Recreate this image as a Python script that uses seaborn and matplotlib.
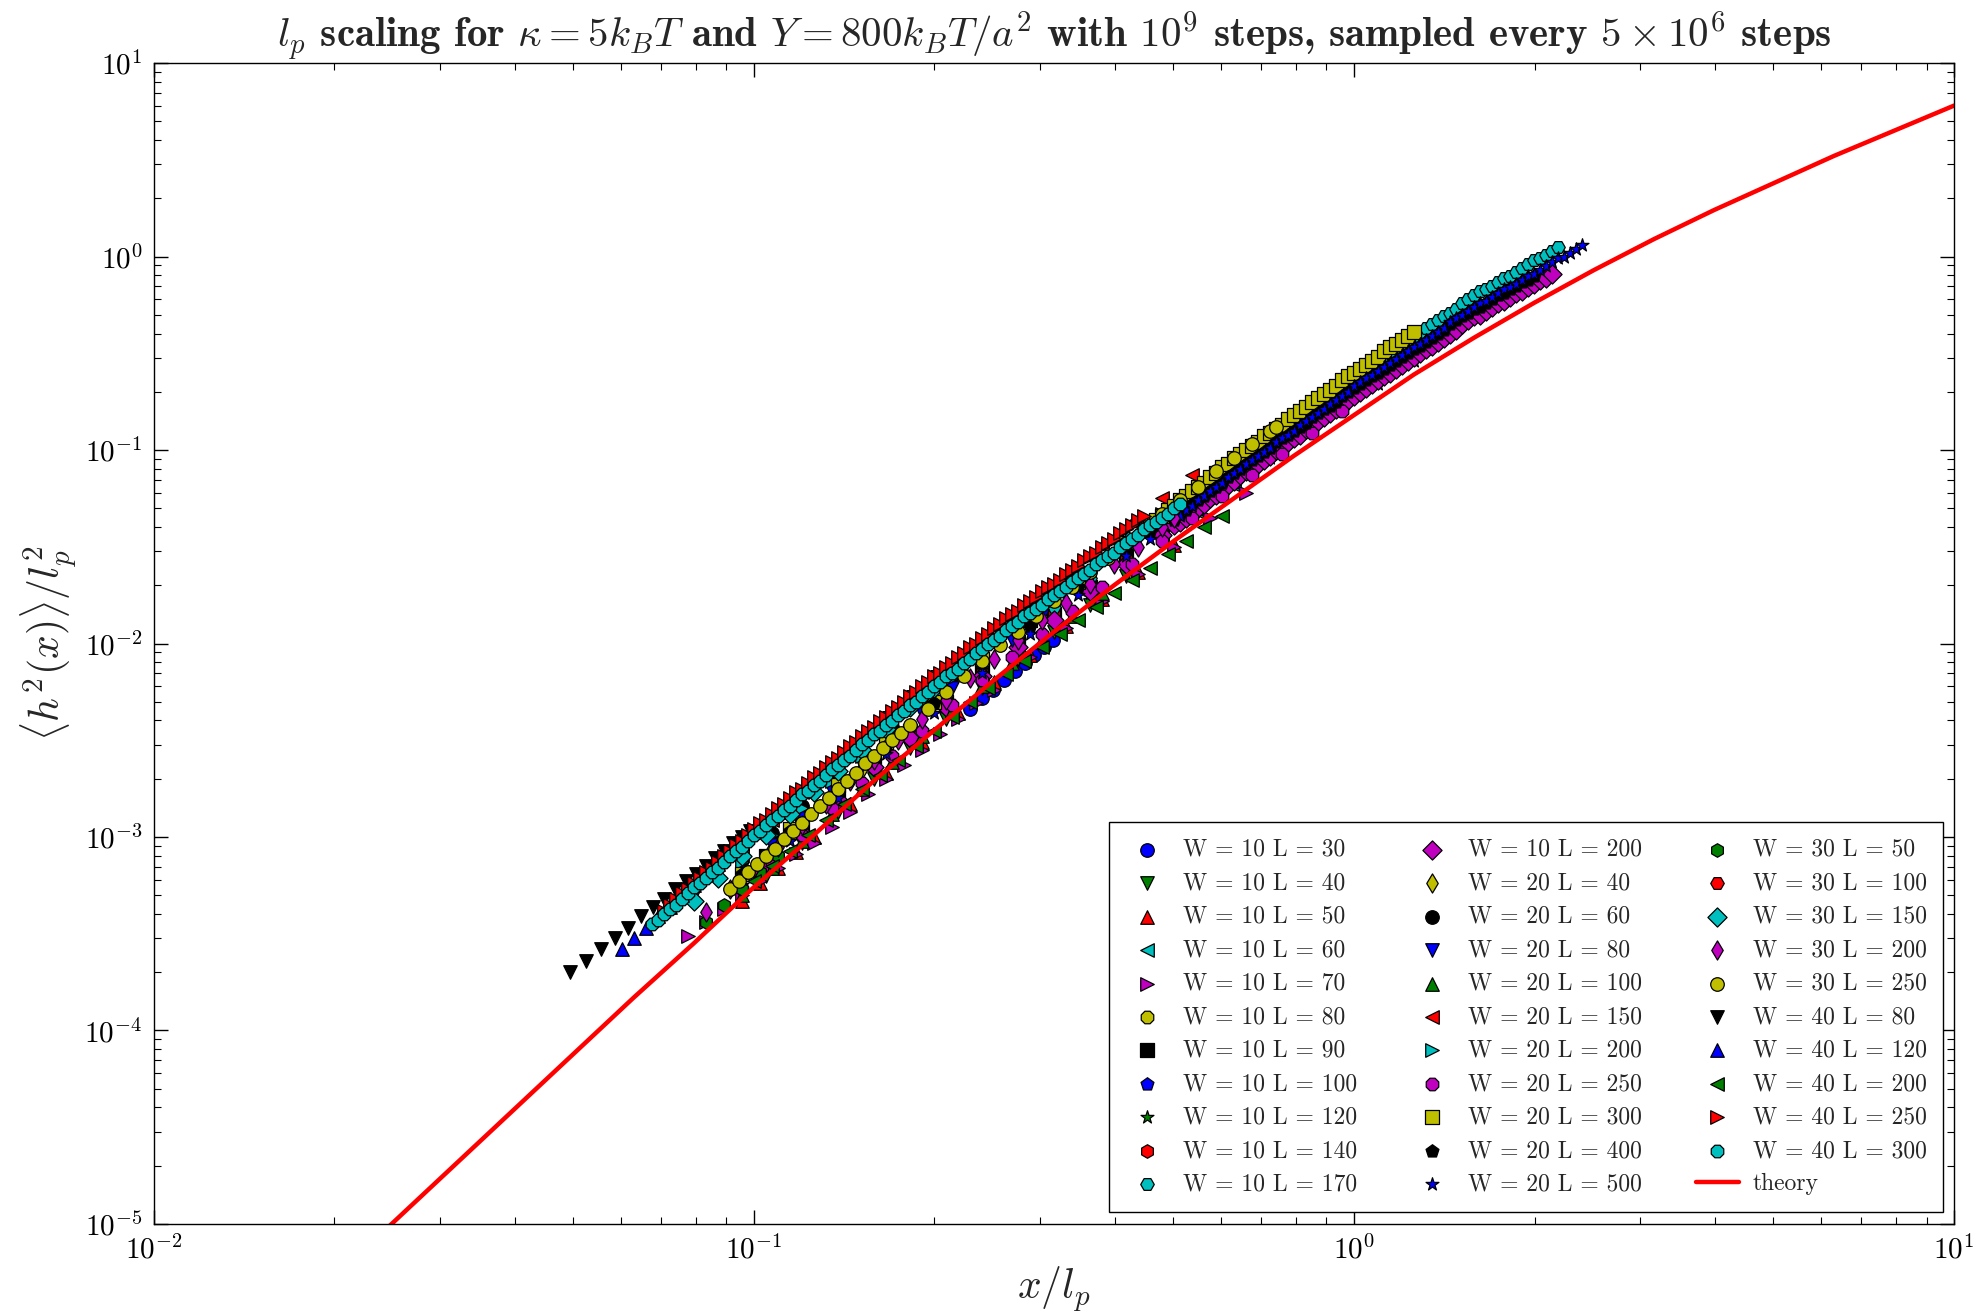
import matplotlib
matplotlib.use("Agg")
import numpy as np
import matplotlib.pyplot as plt
import seaborn as sns

# ---------------------------------------------------------------------------
# Measured <h^2(x)>/l_p^2 against x/l_p, stored as log10 values.
# One inner list per strip length L, grouped by strip width W.
# ---------------------------------------------------------------------------
w10_lengths = [30, 40, 50, 60, 70, 80, 90, 100, 120, 140, 170, 200]
w20_lengths = [40, 60, 80, 100, 150, 200, 250, 300, 400, 500]
w30_lengths = [50, 100, 150, 200, 250]
w40_lengths = [80, 120, 200, 250, 300]

w10_log_x = [
    [-0.640, -0.620, -0.602, -0.583, -0.565, -0.548, -0.533, -0.517, -0.502],
    [-0.98, -0.92, -0.86, -0.80, -0.74, -0.68, -0.62, -0.56, -0.50, -0.44, -0.38],
    [-1.02, -0.99, -0.96, -0.93, -0.90, -0.84, -0.78, -0.72, -0.66, -0.60, -0.54, -0.48, -0.42, -0.36, -0.30],
    [-0.98, -0.92, -0.86, -0.80, -0.74, -0.68, -0.62, -0.56, -0.50, -0.44, -0.38, -0.32, -0.26, -0.20],
    [-1.11, -1.08, -1.05, -1.02, -0.99, -0.96, -0.93, -0.90, -0.87, -0.84, -0.81, -0.78, -0.75, -0.72, -0.69,
     -0.66, -0.63, -0.60, -0.54, -0.48, -0.42, -0.36, -0.30, -0.24, -0.18],
    [-0.98, -0.92, -0.86, -0.80, -0.74, -0.68, -0.62, -0.56, -0.50, -0.44, -0.38, -0.32, -0.26, -0.20, -0.14, -0.08],
    [-0.98, -0.92, -0.86, -0.80, -0.74, -0.68, -0.62, -0.56, -0.50, -0.44, -0.38, -0.32, -0.26, -0.20, -0.14, -0.08,
     -0.02],
    [-0.98, -0.92, -0.86, -0.80, -0.74, -0.68, -0.62, -0.56, -0.50, -0.44, -0.38, -0.32, -0.26, -0.20, -0.14, -0.08,
     -0.02, 0.04],
    [-0.98, -0.92, -0.86, -0.80, -0.74, -0.68, -0.62, -0.56, -0.50, -0.44, -0.38, -0.32, -0.26, -0.20, -0.14, -0.08,
     -0.02, 0.04, 0.10],
    [-0.98, -0.92, -0.86, -0.80, -0.74, -0.68, -0.62, -0.56, -0.50, -0.44, -0.38, -0.32, -0.26, -0.20, -0.14, -0.08,
     -0.02, 0.04, 0.10, 0.16],
    [-0.98, -0.92, -0.86, -0.80, -0.74, -0.68, -0.62, -0.56, -0.50, -0.44, -0.38, -0.32, -0.26, -0.20, -0.14, -0.08,
     -0.02,
     0.00, 0.01, 0.02, 0.03, 0.04, 0.05, 0.06, 0.07, 0.08, 0.09, 0.10, 0.11, 0.12, 0.13, 0.14, 0.15, 0.16, 0.17,
     0.18, 0.19, 0.20, 0.21, 0.22, 0.23, 0.24, 0.25, 0.26, 0.27, 0.28, 0.29, 0.30, 0.31, 0.32, 0.33, 0.34],
    [-0.98, -0.92, -0.86, -0.80, -0.74, -0.68, -0.62, -0.56, -0.50, -0.44, -0.38, -0.32,
     -0.30, -0.29, -0.28, -0.27, -0.26, -0.25, -0.24, -0.23, -0.22, -0.21, -0.20, -0.19, -0.18, -0.17, -0.16,
     -0.15, -0.14, -0.13, -0.12, -0.11, -0.10, -0.09, -0.08, -0.07, -0.06, -0.05, -0.04, -0.03, -0.02, -0.01,
     0.00, 0.01, 0.02, 0.03, 0.04, 0.05, 0.06, 0.07, 0.08, 0.09, 0.10, 0.11, 0.12, 0.13, 0.14, 0.15, 0.16, 0.17,
     0.18, 0.19, 0.20, 0.21, 0.22, 0.23, 0.24, 0.25, 0.26, 0.27, 0.28, 0.29, 0.30, 0.31, 0.32, 0.33],
]
w10_log_y = [
    [-2.34, -2.28, -2.24, -2.19, -2.14, -2.10, -2.06, -2.02, -1.98],
    [-3.20, -3.03, -2.87, -2.70, -2.54, -2.39, -2.23, -2.08, -1.94, -1.80, -1.65],
    [-3.33, -3.24, -3.16, -3.08, -3.00, -2.83, -2.67, -2.51, -2.36, -2.20, -2.06, -1.91, -1.77, -1.63, -1.49],
    [-3.15, -2.98, -2.82, -2.65, -2.49, -2.34, -2.18, -2.03, -1.89, -1.75, -1.60, -1.46, -1.32, -1.18],
    [-3.51, -3.44, -3.37, -3.30, -3.23, -3.16, -3.09, -3.03, -2.95, -2.87, -2.78, -2.70, -2.63, -2.55, -2.47,
     -2.39, -2.31, -2.24, -2.07, -1.92, -1.78, -1.64, -1.50, -1.35, -1.22],
    [-3.13, -2.96, -2.80, -2.63, -2.47, -2.32, -2.16, -2.01, -1.87, -1.73, -1.58, -1.44, -1.30, -1.16, -1.03, -0.90],
    [-3.10, -2.94, -2.78, -2.61, -2.45, -2.30, -2.14, -1.99, -1.85, -1.71, -1.56, -1.42, -1.28, -1.14, -1.01, -0.88,
     -0.75],
    [-3.12, -2.95, -2.79, -2.62, -2.46, -2.31, -2.15, -2.00, -1.86, -1.72, -1.57, -1.43, -1.29, -1.15, -1.02, -0.89,
     -0.76, -0.64],
    [-3.14, -2.97, -2.81, -2.64, -2.48, -2.33, -2.17, -2.02, -1.88, -1.74, -1.59, -1.45, -1.31, -1.17, -1.04, -0.91,
     -0.78, -0.66, -0.54],
    [-3.10, -2.94, -2.78, -2.61, -2.45, -2.30, -2.14, -1.99, -1.85, -1.71, -1.56, -1.42, -1.28, -1.14, -1.01, -0.88,
     -0.75, -0.63, -0.51, -0.39],
    [-3.11, -2.94, -2.76, -2.59, -2.43, -2.27, -2.11, -1.96, -1.81, -1.66, -1.51, -1.36, -1.22, -1.07, -0.94, -0.80,
     -0.67,
     -0.62, -0.60, -0.58, -0.56, -0.54, -0.52, -0.50, -0.47, -0.45, -0.43, -0.41, -0.39, -0.37, -0.35, -0.33,
     -0.31, -0.29, -0.27, -0.24, -0.22, -0.20, -0.18, -0.17, -0.15, -0.13, -0.11, -0.10, -0.08, -0.06, -0.04,
     -0.02, -0.01, 0.01, 0.03, 0.05],
    [-3.15, -2.98, -2.81, -2.64, -2.49, -2.33, -2.17, -2.02, -1.88, -1.73, -1.59, -1.44,
     -1.39, -1.37, -1.35, -1.32, -1.30, -1.28, -1.25, -1.23, -1.20, -1.18, -1.16, -1.13, -1.11, -1.09, -1.07,
     -1.05, -1.03, -1.00, -0.98, -0.96, -0.94, -0.92, -0.89, -0.87, -0.85, -0.83, -0.81, -0.79, -0.76, -0.74,
     -0.72, -0.70, -0.68, -0.66, -0.64, -0.62, -0.60, -0.58, -0.56, -0.54, -0.52, -0.50, -0.48, -0.46, -0.44,
     -0.42, -0.40, -0.38, -0.35, -0.33, -0.31, -0.30, -0.28, -0.26, -0.24, -0.23, -0.21, -0.19, -0.18, -0.16,
     -0.14, -0.12, -0.11, -0.09],
]

w20_log_x = [
    [-1.02, -0.97, -0.92, -0.87, -0.82],
    [-1.02, -0.97, -0.92, -0.87, -0.82, -0.77, -0.72, -0.67],
    [-1.02, -0.97, -0.92, -0.87, -0.82, -0.77, -0.72, -0.67, -0.62, -0.57, -0.52],
    [-1.02, -0.97, -0.92, -0.87, -0.82, -0.77, -0.72, -0.67, -0.62, -0.57, -0.52, -0.47, -0.42],
    [-1.02, -0.97, -0.92, -0.87, -0.82, -0.77, -0.72, -0.67, -0.62, -0.57, -0.52, -0.47, -0.42, -0.37, -0.32,
     -0.27],
    [-1.02, -0.97, -0.92, -0.87, -0.82, -0.77, -0.72, -0.67, -0.62, -0.57, -0.52, -0.47, -0.42, -0.37, -0.32,
     -0.27, -0.22, -0.17, -0.12],
    [-1.02, -0.97, -0.92, -0.87, -0.82, -0.77, -0.72, -0.67, -0.62, -0.57, -0.52, -0.47, -0.42, -0.37, -0.32,
     -0.27, -0.22, -0.17, -0.12, -0.07, -0.02],
    [-1.02, -0.94, -0.86, -0.78, -0.70, -0.62, -0.54, -0.46, -0.38,
     -0.34, -0.33, -0.32, -0.31, -0.30, -0.29, -0.28, -0.27, -0.26, -0.25, -0.24, -0.23, -0.22, -0.21, -0.20,
     -0.19, -0.18, -0.17, -0.16, -0.15, -0.14, -0.13, -0.12, -0.11, -0.10, -0.09, -0.08, -0.07, -0.06, -0.05,
     -0.04, -0.03, -0.02, -0.01, 0.00, 0.01, 0.02, 0.03, 0.04, 0.05, 0.06, 0.07, 0.08, 0.09, 0.10],
    [-1.02, -0.94, -0.86, -0.78, -0.70, -0.62, -0.54, -0.46, -0.38, -0.34,
     -0.30, -0.29, -0.28, -0.27, -0.26, -0.25, -0.24, -0.23, -0.22, -0.21, -0.20, -0.19, -0.18, -0.17, -0.16,
     -0.15, -0.14, -0.13, -0.12, -0.11, -0.10, -0.09, -0.08, -0.07, -0.06, -0.05, -0.04, -0.03, -0.02, -0.01,
     0.00, 0.01, 0.02, 0.03, 0.04, 0.05, 0.06, 0.07, 0.08, 0.09, 0.10, 0.11, 0.12, 0.13, 0.14, 0.15, 0.16, 0.17,
     0.18, 0.19, 0.20, 0.21, 0.22, 0.23, 0.24, 0.25, 0.26, 0.27, 0.28, 0.29, 0.30],
    [-1.02, -0.94, -0.86, -0.78, -0.70, -0.62, -0.54, -0.46, -0.38, -0.34,
     -0.30, -0.29, -0.28, -0.27, -0.26, -0.25, -0.24, -0.23, -0.22, -0.21, -0.20, -0.19, -0.18, -0.17, -0.16,
     -0.15, -0.14, -0.13, -0.12, -0.11, -0.10, -0.09, -0.08, -0.07, -0.06, -0.05, -0.04, -0.03, -0.02, -0.01,
     0.00, 0.01, 0.02, 0.03, 0.04, 0.05, 0.06, 0.07, 0.08, 0.09, 0.10, 0.11, 0.12, 0.13, 0.14, 0.15, 0.16, 0.17,
     0.18, 0.19, 0.20, 0.21, 0.22, 0.23, 0.24, 0.25, 0.26, 0.27, 0.28, 0.29, 0.30, 0.31, 0.32, 0.33, 0.34, 0.35,
     0.36, 0.37, 0.38],
]
w20_log_y = [
    [-3.20, -3.06, -2.92, -2.78, -2.65],
    [-3.12, -2.98, -2.84, -2.70, -2.57, -2.43, -2.30, -2.17],
    [-3.18, -3.04, -2.90, -2.76, -2.63, -2.49, -2.36, -2.23, -2.10, -1.98, -1.86],
    [-3.30, -3.16, -3.02, -2.88, -2.75, -2.61, -2.48, -2.35, -2.22, -2.10, -1.98, -1.86, -1.74],
    [-3.05, -2.91, -2.77, -2.63, -2.50, -2.36, -2.23, -2.10, -1.97, -1.85, -1.73, -1.61, -1.49, -1.37, -1.25,
     -1.13],
    [-3.13, -2.99, -2.85, -2.71, -2.58, -2.44, -2.31, -2.18, -2.05, -1.93, -1.81, -1.69, -1.57, -1.45, -1.33,
     -1.21, -1.10, -0.99, -0.88],
    [-3.27, -3.13, -2.99, -2.85, -2.72, -2.58, -2.45, -2.32, -2.19, -2.07, -1.95, -1.83, -1.71, -1.59, -1.47,
     -1.35, -1.24, -1.13, -1.02, -0.91, -0.80],
    [-3.19, -2.96, -2.73, -2.51, -2.30, -2.08, -1.88, -1.68, -1.48,
     -1.38, -1.36, -1.34, -1.31, -1.29, -1.26, -1.24, -1.21, -1.19, -1.17, -1.14, -1.12, -1.09, -1.07, -1.04,
     -1.02, -1.00, -0.98, -0.96, -0.93, -0.91, -0.89, -0.87, -0.84, -0.82, -0.80, -0.78, -0.75, -0.73, -0.71,
     -0.69, -0.67, -0.64, -0.62, -0.60, -0.58, -0.56, -0.54, -0.52, -0.49, -0.47, -0.45, -0.43, -0.41, -0.39],
    [-3.19, -2.97, -2.75, -2.53, -2.31, -2.10, -1.91, -1.71, -1.52, -1.42,
     -1.36, -1.33, -1.31, -1.28, -1.26, -1.24, -1.21, -1.19, -1.17, -1.14, -1.12, -1.10, -1.07, -1.05, -1.03,
     -1.01, -0.99, -0.96, -0.94, -0.92, -0.90, -0.88, -0.86, -0.83, -0.81, -0.79, -0.77, -0.75, -0.72, -0.70,
     -0.68, -0.66, -0.64, -0.62, -0.60, -0.58, -0.56, -0.54, -0.52, -0.50, -0.48, -0.46, -0.44, -0.42, -0.40,
     -0.38, -0.35, -0.33, -0.31, -0.29, -0.27, -0.26, -0.24, -0.22, -0.20, -0.19, -0.17, -0.15, -0.13, -0.12,
     -0.10],
    [-3.25, -3.02, -2.80, -2.57, -2.36, -2.15, -1.95, -1.75, -1.55, -1.46,
     -1.36, -1.34, -1.31, -1.29, -1.26, -1.24, -1.21, -1.19, -1.17, -1.14, -1.12, -1.10, -1.07, -1.05, -1.03,
     -1.01, -0.99, -0.96, -0.94, -0.92, -0.90, -0.87, -0.85, -0.83, -0.81, -0.79, -0.76, -0.74, -0.72, -0.70,
     -0.67, -0.65, -0.63, -0.61, -0.59, -0.57, -0.55, -0.53, -0.51, -0.49, -0.47, -0.45, -0.43, -0.41, -0.39,
     -0.37, -0.34, -0.32, -0.30, -0.28, -0.26, -0.24, -0.23, -0.21, -0.19, -0.17, -0.16, -0.14, -0.12, -0.10,
     -0.09, -0.07, -0.05, -0.03, -0.01, 0.00, 0.02, 0.04, 0.06],
]

w30_log_x = [
    [-1.08, -1.05, -1.02, -0.99, -0.96],
    [-1.10, -1.06, -1.02, -0.98, -0.94, -0.90, -0.86, -0.82, -0.78, -0.74, -0.70],
    [-1.10, -1.06, -1.02, -0.98, -0.94, -0.90, -0.86, -0.82, -0.78, -0.74, -0.70, -0.66, -0.62, -0.58, -0.54],
    [-1.08, -1.04, -1.00, -0.96, -0.92, -0.88, -0.84, -0.80, -0.76, -0.72, -0.68, -0.64, -0.60, -0.56, -0.52,
     -0.48, -0.44, -0.40, -0.36, -0.32, -0.30],
    [-1.040, -1.025, -1.010, -0.995, -0.980, -0.965, -0.950, -0.935, -0.920, -0.905, -0.890, -0.875, -0.860,
     -0.845, -0.830, -0.815, -0.800, -0.785, -0.770, -0.755, -0.740,
     -0.71, -0.68, -0.65, -0.62, -0.59, -0.56, -0.53, -0.50, -0.47, -0.44, -0.41, -0.38, -0.35, -0.32, -0.29,
     -0.26, -0.23, -0.20, -0.17, -0.14, -0.13],
]
w30_log_y = [
    [-3.44, -3.35, -3.27, -3.18, -3.10],
    [-3.27, -3.15, -3.04, -2.93, -2.82, -2.71, -2.60, -2.49, -2.38, -2.27, -2.17],
    [-3.33, -3.21, -3.10, -2.99, -2.88, -2.77, -2.66, -2.55, -2.44, -2.33, -2.23, -2.13, -2.02, -1.92, -1.83],
    [-3.39, -3.27, -3.16, -3.05, -2.94, -2.83, -2.71, -2.60, -2.50, -2.39, -2.29, -2.18, -2.08, -1.98, -1.88,
     -1.79, -1.69, -1.59, -1.50, -1.40, -1.35],
    [-3.27, -3.23, -3.18, -3.14, -3.10, -3.06, -3.01, -2.97, -2.93, -2.88, -2.84, -2.80, -2.75, -2.71, -2.67,
     -2.62, -2.58, -2.54, -2.50, -2.46, -2.42,
     -2.34, -2.25, -2.17, -2.09, -2.01, -1.94, -1.86, -1.78, -1.71, -1.63, -1.56, -1.48, -1.41, -1.33, -1.26,
     -1.19, -1.11, -1.04, -0.97, -0.90, -0.88],
]

w40_log_x = [
    [-1.306, -1.280, -1.255, -1.232, -1.210, -1.188, -1.168, -1.149, -1.131, -1.113, -1.096, -1.080, -1.064,
     -1.049, -1.034, -1.020, -1.006],
    [-1.22, -1.20, -1.18, -1.16, -1.14, -1.12, -1.10, -1.08, -1.06, -1.04, -1.02, -1.00, -0.98, -0.96, -0.94,
     -0.92, -0.90, -0.88, -0.86, -0.84, -0.82],
    [-1.00, -0.97, -0.94, -0.91, -0.88, -0.85, -0.82, -0.79, -0.76, -0.73, -0.70, -0.67, -0.64, -0.61, -0.58,
     -0.55, -0.52, -0.49, -0.46, -0.43, -0.40, -0.37, -0.34, -0.31, -0.28, -0.25, -0.22],
    [-1.15, -1.14, -1.13, -1.12, -1.11, -1.10, -1.09, -1.08, -1.07, -1.06, -1.05, -1.04, -1.03, -1.02, -1.01,
     -1.00, -0.99, -0.98, -0.97, -0.96, -0.95, -0.94, -0.93, -0.92, -0.91, -0.90, -0.89, -0.88, -0.87, -0.86,
     -0.85, -0.84, -0.83, -0.82, -0.81, -0.80, -0.79, -0.78, -0.77, -0.76, -0.75, -0.74, -0.73, -0.72, -0.71,
     -0.70, -0.69, -0.68, -0.67, -0.66, -0.65, -0.64, -0.63, -0.62, -0.61, -0.60, -0.59, -0.58, -0.57, -0.56,
     -0.55, -0.54, -0.53, -0.52, -0.51, -0.50, -0.49, -0.48, -0.47, -0.46, -0.45, -0.44, -0.43, -0.42, -0.41,
     -0.40, -0.39, -0.38, -0.37, -0.36, -0.35],
    [-1.17, -1.16, -1.15, -1.14, -1.13, -1.12, -1.11, -1.10, -1.09, -1.08, -1.07, -1.06, -1.05, -1.04, -1.03,
     -1.02, -1.01, -1.00, -0.99, -0.98, -0.97, -0.96, -0.95, -0.94, -0.93, -0.92, -0.91, -0.90, -0.89, -0.88,
     -0.87, -0.86, -0.85, -0.84, -0.83, -0.82, -0.81, -0.80, -0.79, -0.78, -0.77, -0.76, -0.75, -0.74, -0.73,
     -0.72, -0.71, -0.70, -0.69, -0.68, -0.67, -0.66, -0.65, -0.64, -0.63, -0.62, -0.61, -0.60, -0.59, -0.58,
     -0.57, -0.56, -0.55, -0.54, -0.53, -0.52, -0.51, -0.50, -0.49, -0.48, -0.47, -0.46, -0.45, -0.44, -0.43,
     -0.42, -0.41, -0.40, -0.39, -0.38, -0.37, -0.36, -0.35, -0.34, -0.33, -0.32, -0.31, -0.30, -0.29],
]
w40_log_y = [
    [-3.70, -3.64, -3.58, -3.52, -3.47, -3.41, -3.36, -3.32, -3.27, -3.23, -3.19, -3.15, -3.11, -3.07, -3.03,
     -3.00, -2.97],
    [-3.58, -3.52, -3.47, -3.41, -3.36, -3.30, -3.25, -3.19, -3.14, -3.08, -3.03, -2.97, -2.92, -2.87, -2.81,
     -2.76, -2.71, -2.65, -2.60, -2.55, -2.50],
    [-3.23, -3.15, -3.07, -2.99, -2.91, -2.83, -2.75, -2.68, -2.60, -2.53, -2.45, -2.38, -2.30, -2.23, -2.16,
     -2.09, -2.02, -1.95, -1.88, -1.81, -1.74, -1.67, -1.61, -1.54, -1.47, -1.40, -1.34],
    [-3.38, -3.35, -3.32, -3.29, -3.27, -3.24, -3.21, -3.18, -3.16, -3.13, -3.10, -3.07, -3.04, -3.02, -2.99,
     -2.96, -2.93, -2.91, -2.88, -2.85, -2.83, -2.80, -2.77, -2.75, -2.72, -2.69, -2.67, -2.64, -2.61, -2.59,
     -2.56, -2.53, -2.51, -2.48, -2.45, -2.43, -2.40, -2.38, -2.35, -2.33, -2.30, -2.27, -2.25, -2.22, -2.20,
     -2.17, -2.15, -2.12, -2.10, -2.07, -2.05, -2.02, -2.00, -1.97, -1.95, -1.92, -1.90, -1.87, -1.85, -1.83,
     -1.80, -1.78, -1.76, -1.73, -1.71, -1.69, -1.67, -1.64, -1.62, -1.60, -1.57, -1.55, -1.53, -1.50, -1.48,
     -1.46, -1.43, -1.41, -1.39, -1.36, -1.34],
    [-3.45, -3.43, -3.40, -3.37, -3.35, -3.32, -3.29, -3.26, -3.24, -3.21, -3.18, -3.16, -3.13, -3.10, -3.07,
     -3.05, -3.02, -2.99, -2.97, -2.94, -2.91, -2.89, -2.86, -2.84, -2.81, -2.78, -2.76, -2.73, -2.71, -2.68,
     -2.65, -2.63, -2.60, -2.58, -2.55, -2.52, -2.50, -2.47, -2.45, -2.42, -2.40, -2.37, -2.35, -2.32, -2.30,
     -2.27, -2.25, -2.22, -2.20, -2.17, -2.15, -2.13, -2.10, -2.08, -2.05, -2.03, -2.00, -1.98, -1.96, -1.93,
     -1.91, -1.89, -1.86, -1.84, -1.82, -1.80, -1.77, -1.75, -1.73, -1.71, -1.68, -1.66, -1.64, -1.62, -1.59,
     -1.57, -1.55, -1.53, -1.50, -1.48, -1.46, -1.44, -1.41, -1.39, -1.37, -1.35, -1.33, -1.30, -1.28],
]

# Theory curve (log10 of x/l_p and of <h^2>/l_p^2)
theory_log_x = [-1.7, -1.6, -1.5, -1.4, -1.3, -1.2, -1.1, -1.0, -0.9, -0.8, -0.7, -0.6, -0.5, -0.4,
                -0.3, -0.2, -0.1, 0.0, 0.1, 0.2, 0.3, 0.4, 0.5, 0.6, 0.7, 0.8, 0.9, 1.0]
theory_log_y = [-5.28, -4.99, -4.70, -4.41, -4.12, -3.83, -3.55, -3.26, -2.99, -2.71, -2.45, -2.19, -1.94,
                -1.70, -1.47, -1.25, -1.03, -0.82, -0.61, -0.42, -0.24, -0.07, 0.09, 0.24, 0.38, 0.52, 0.65,
                0.78]

# classic matplotlib colour / marker cycles (b, g, r, c, m, y, k)
color_cycle = [(0.0, 0.0, 1.0), (0.0, 0.5, 0.0), (1.0, 0.0, 0.0), (0.0, 0.75, 0.75),
               (0.75, 0.0, 0.75), (0.75, 0.75, 0.0), (0.0, 0.0, 0.0)]
marker_cycle = ["o", "v", "^", "<", ">", "8", "s", "p", "*", "h", "H", "D", "d"]

# ---------------------------------------------------------------------------
sns.set_theme(style="ticks")
plt.rcParams.update({
    "font.family": ["cmr10", "DejaVu Serif"],
    "mathtext.fontset": "cm",
    "axes.formatter.use_mathtext": True,
    "axes.unicode_minus": False,
    "axes.edgecolor": "black",
    "axes.linewidth": 1.0,
    "xtick.color": "black",
    "ytick.color": "black",
})

fig = plt.figure(figsize=(19.74, 13.13), dpi=100)
ax = fig.add_axes([0.0778, 0.0678, 0.9121, 0.8842])
ax.set_xscale("log")
ax.set_yscale("log")

groups = [(10, w10_lengths, w10_log_x, w10_log_y),
          (20, w20_lengths, w20_log_x, w20_log_y),
          (30, w30_lengths, w30_log_x, w30_log_y),
          (40, w40_lengths, w40_log_x, w40_log_y)]

idx = 0
for width, lengths, gx, gy in groups:
    for length, lx, ly in zip(lengths, gx, gy):
        assert len(lx) == len(ly), (width, length, len(lx), len(ly))
        sns.scatterplot(x=np.power(10.0, lx), y=np.power(10.0, ly), ax=ax,
                        color=color_cycle[idx % 7], marker=marker_cycle[idx % 13],
                        s=95, edgecolor="black", linewidth=0.9,
                        label=f"W = {width} L = {length}", legend=False)
        idx += 1

sns.lineplot(x=np.power(10.0, theory_log_x), y=np.power(10.0, theory_log_y), ax=ax,
             color=(1.0, 0.0, 0.0), linewidth=3.2, label="theory", sort=False, estimator=None)

ax.set_xlim(1e-2, 1e1)
ax.set_ylim(1e-5, 1e1)

ax.tick_params(which="both", direction="in", top=True, right=True)
ax.tick_params(which="major", length=10, width=1.0, labelsize=21, pad=8)
ax.tick_params(which="minor", length=5, width=0.8)
for sp in ax.spines.values():
    sp.set_visible(True)
    sp.set_color("black")

ax.set_xlabel(r"$x/l_p$", fontsize=30, labelpad=0)
ax.set_ylabel(r"$\langle h^2(x)\rangle/l_p^2$", fontsize=30, labelpad=4)
ax.set_title(r"$l_p$ scaling for $\kappa = 5k_BT$ and $Y = 800k_BT/a^2$ with $10^9$ steps, "
             r"sampled every $5\times10^6$ steps",
             fontsize=29.5, family=["cmb10", "DejaVu Serif"], pad=8)

handles, labels = ax.get_legend_handles_labels()
leg = ax.legend(handles, labels, ncol=3, loc="lower right", bbox_to_anchor=(0.994, 0.0103),
                borderaxespad=0.0, fontsize=17, labelspacing=0.48, columnspacing=2.3,
                handletextpad=0.6, handlelength=1.8, borderpad=0.7, scatterpoints=1,
                frameon=True, fancybox=False, framealpha=1.0, edgecolor="black")
leg.get_frame().set_linewidth(1.0)

fig.savefig("out.png", dpi=100)
